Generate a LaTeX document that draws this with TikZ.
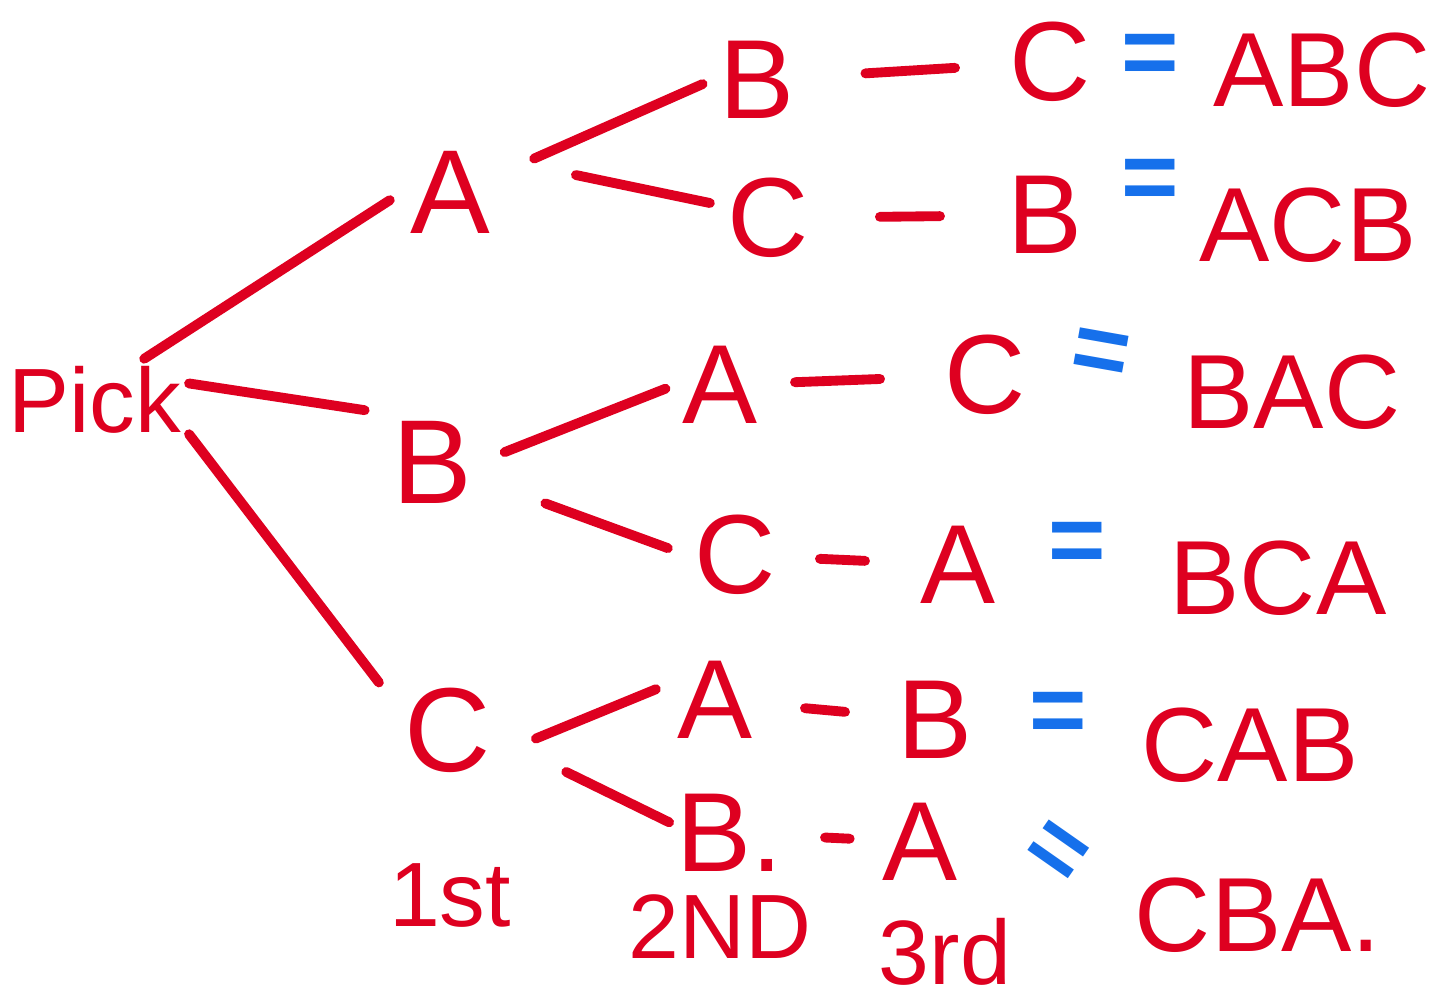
\documentclass[tikz,border=0pt]{standalone}
\usepackage{fontspec}
\setmainfont{Liberation Sans}
\usepackage{tikz}
\usetikzlibrary{calc}

\definecolor{pen}{RGB}{222,0,32}
\definecolor{ink}{RGB}{22,112,235}

\begin{document}
\begin{tikzpicture}[
    letter/.style={text=pen, inner sep=2pt, font=\fontsize{32}{38}\selectfont},
    levelone/.style={letter, font=\fontsize{34}{40}\selectfont},
    result/.style={letter, font=\fontsize{30}{36}\selectfont},
    rowtag/.style={letter, font=\fontsize{26}{30}\selectfont},
    equal/.style={text=ink, inner sep=2pt, font=\fontsize{28}{34}\selectfont\bfseries},
    link/.style={draw=pen, line width=2.8pt, line cap=round}
]
    \useasboundingbox (0,0) rectangle (14.35,-10.06);

    % Root node
    \node[rowtag] (pick) at (0.95,-4.00) {Pick};

    % First pick
    \node[levelone] (a1) at (4.50,-1.92) {A};
    \node[levelone] (b1) at (4.32,-4.62) {B};
    \node[levelone] (c1) at (4.48,-7.30) {C};

    % Second pick
    \node[letter] (ab) at (7.57,-0.80) {B};
    \node[letter] (ac) at (7.68,-2.18) {C};
    \node[letter] (ba) at (7.20,-3.85) {A};
    \node[letter] (bc) at (7.35,-5.55) {C};
    \node[letter] (ca) at (7.15,-7.00) {A};
    \node[letter] (cb) at (7.30,-8.33) {B.};

    % Third pick
    \node[letter] (abc) at (10.50,-0.62) {C};
    \node[letter] (acb) at (10.45,-2.15) {B};
    \node[letter] (bac) at (9.85,-3.75) {C};
    \node[letter] (bca) at (9.58,-5.65) {A};
    \node[letter] (cab) at (9.35,-7.20) {B};
    \node[letter] (cba) at (9.20,-8.42) {A};

    % Equals signs
    \node[equal] (eqabc) at (11.50,-0.60) {=};
    \node[equal] (eqacb) at (11.50,-1.85) {=};
    \node[equal, rotate=-10] (eqbac) at (11.00,-3.57) {=};
    \node[equal] (eqbca) at (10.77,-5.48) {=};
    \node[equal] (eqcab) at (10.58,-7.18) {=};
    \node[equal, rotate=-35] (eqcba) at (10.55,-8.55) {=};

    % Results
    \node[result] (resabc) at (13.22,-0.70) {ABC};
    \node[result] (resacb) at (13.08,-2.25) {ACB};
    \node[result] (resbac) at (12.92,-3.92) {BAC};
    \node[result] (resbca) at (12.78,-5.78) {BCA};
    \node[result] (rescab) at (12.50,-7.45) {CAB};
    \node[result] (rescba) at (12.58,-9.15) {CBA.};

    % Column labels
    \node[rowtag] (first) at (4.50,-8.95) {1st};
    \node[rowtag] (second) at (7.20,-9.27) {2ND};
    \node[rowtag] (third) at (9.45,-9.52) {3rd};

    % Branches from root
    \draw[link, shorten >=0.15cm] (pick.40) -- (a1.west);
    \draw[link, shorten >=0.2cm] (pick.10) -- (b1.north west);
    \draw[link, shorten >=0.3cm] (pick.-20) -- (c1.155);

    % Branches from first pick
    \draw[link, shorten <=0.4cm, shorten >=0.1cm] (a1.20) -- (ab.west);
    \draw[link, shorten <=0.8cm, shorten >=0.1cm] (a1.35) -- (ac.165);
    \draw[link, shorten <=0.27cm, shorten >=0.1cm] (b1.east) -- (ba.west);
    \draw[link, shorten <=0.7cm, shorten >=0.2cm] (b1.-20) -- (bc.west);
    \draw[link, shorten <=0.4cm, shorten >=0.15cm] (c1.-25) -- (ca.160);
    \draw[link, shorten <=0.75cm] (c1.-10) -- (cb.170);

    % Dashes between second and third pick
    \draw[link] ($(ab)!0.37!(abc)$) -- ($(ab)!0.676!(abc)$);
    \draw[link] ($(ac)!0.404!(acb)$) -- ($(ac)!0.621!(acb)$);
    \draw[link] ($(ba)!0.283!(bac)$) -- ($(ba)!0.604!(bac)$);
    \draw[link] ($(bc)!0.381!(bca)$) -- ($(bc)!0.583!(bca)$);
    \draw[link] ($(ca)!0.409!(cab)$) -- ($(ca)!0.591!(cab)$);
    \draw[link] ($(cb)!0.5!(cba)$) -- ($(cb)!0.63!(cba)$);
\end{tikzpicture}
\end{document}
